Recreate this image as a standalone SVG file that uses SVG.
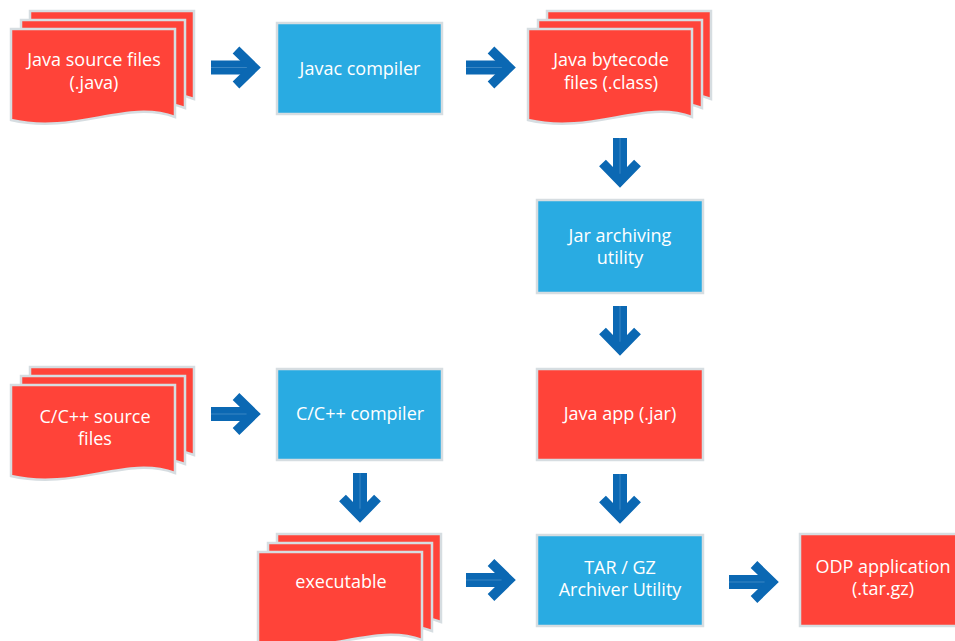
<svg xmlns="http://www.w3.org/2000/svg" xmlns:xlink="http://www.w3.org/1999/xlink" width="955" height="641" viewBox="0 0 955 641">
<style>
.sheet{fill:#ff4339;stroke:#d6dde1;stroke-width:2.5}
.box-blue{fill:#29abe2;stroke:#d6dde1;stroke-width:2.5}
.box-red{fill:#ff4339;stroke:#d6dde1;stroke-width:2.5}
.lbl{font-family:"Open Sans","Liberation Sans",sans-serif;font-size:18px;fill:#ffffff;text-anchor:middle}
.shaft{fill:#0b68b3}
.head{fill:none;stroke:#0b68b3;stroke-width:9.5;stroke-linejoin:miter;stroke-linecap:butt}
.mid{stroke:#3a86c3;stroke-width:1}
</style>
<defs>
<path id="doc" d="M0,0 H164 V88 C115,70 65,106 0,91 Z"/>
<g id="arrH">
<rect class="shaft" x="0" y="-7" width="42" height="14"/>
<line class="mid" x1="0" y1="0" x2="40" y2="0"/>
<polyline class="head" points="25,-17.5 43,0 25,17.5"/>
</g>
</defs>
<rect width="955" height="641" fill="#ffffff"/>

<g id="java-src">
<use xlink:href="#doc" href="#doc" class="sheet" x="30" y="11"/>
<use xlink:href="#doc" href="#doc" class="sheet" x="21" y="20"/>
<use xlink:href="#doc" href="#doc" class="sheet" x="11" y="29"/>
<text class="lbl" x="94" y="66">Java source files</text>
<text class="lbl" x="94" y="89">(.java)</text>
</g>

<g id="javac">
<rect class="box-blue" x="277" y="23" width="165" height="91"/>
<text class="lbl" x="360" y="75">Javac compiler</text>
</g>

<g id="bytecode">
<use xlink:href="#doc" href="#doc" class="sheet" x="547" y="11"/>
<use xlink:href="#doc" href="#doc" class="sheet" x="538" y="20"/>
<use xlink:href="#doc" href="#doc" class="sheet" x="528" y="29"/>
<text class="lbl" x="611" y="66">Java bytecode</text>
<text class="lbl" x="611" y="89">files (.class)</text>
</g>

<g id="jar-util">
<rect class="box-blue" x="537" y="200" width="166" height="93"/>
<text class="lbl" x="620" y="242">Jar archiving</text>
<text class="lbl" x="620" y="264">utility</text>
</g>

<g id="c-src">
<use xlink:href="#doc" href="#doc" class="sheet" x="30" y="367"/>
<use xlink:href="#doc" href="#doc" class="sheet" x="21" y="376"/>
<use xlink:href="#doc" href="#doc" class="sheet" x="11" y="385"/>
<text class="lbl" x="95" y="423">C/C++ source</text>
<text class="lbl" x="95" y="445">files</text>
</g>

<g id="c-compiler">
<rect class="box-blue" x="277" y="369" width="165" height="91"/>
<text class="lbl" x="360" y="420">C/C++ compiler</text>
</g>

<g id="java-app">
<rect class="box-red" x="537" y="369" width="166" height="91"/>
<text class="lbl" x="620" y="420">Java app (.jar)</text>
</g>

<g id="executable">
<use xlink:href="#doc" href="#doc" class="sheet" x="277" y="534"/>
<use xlink:href="#doc" href="#doc" class="sheet" x="268" y="543"/>
<use xlink:href="#doc" href="#doc" class="sheet" x="258" y="552"/>
<text class="lbl" x="341" y="588">executable</text>
</g>

<g id="tar-gz">
<rect class="box-blue" x="537" y="535" width="166" height="91"/>
<text class="lbl" x="620" y="574">TAR / GZ</text>
<text class="lbl" x="620" y="596">Archiver Utility</text>
</g>

<g id="odp-app">
<rect class="box-red" x="800" y="534" width="166" height="92"/>
<text class="lbl" x="883" y="573">ODP application</text>
<text class="lbl" x="883" y="595">(.tar.gz)</text>
</g>

<g id="connectors">
<use xlink:href="#arrH" href="#arrH" transform="translate(211,67.5)"/>
<use xlink:href="#arrH" href="#arrH" transform="translate(466,67.5)"/>
<use xlink:href="#arrH" href="#arrH" transform="translate(620,138) rotate(90)"/>
<use xlink:href="#arrH" href="#arrH" transform="translate(620,306) rotate(90)"/>
<use xlink:href="#arrH" href="#arrH" transform="translate(211,414)"/>
<use xlink:href="#arrH" href="#arrH" transform="translate(360,473) rotate(90)"/>
<use xlink:href="#arrH" href="#arrH" transform="translate(620,474) rotate(90)"/>
<use xlink:href="#arrH" href="#arrH" transform="translate(466,580)"/>
<use xlink:href="#arrH" href="#arrH" transform="translate(729,582)"/>
</g>
</svg>
